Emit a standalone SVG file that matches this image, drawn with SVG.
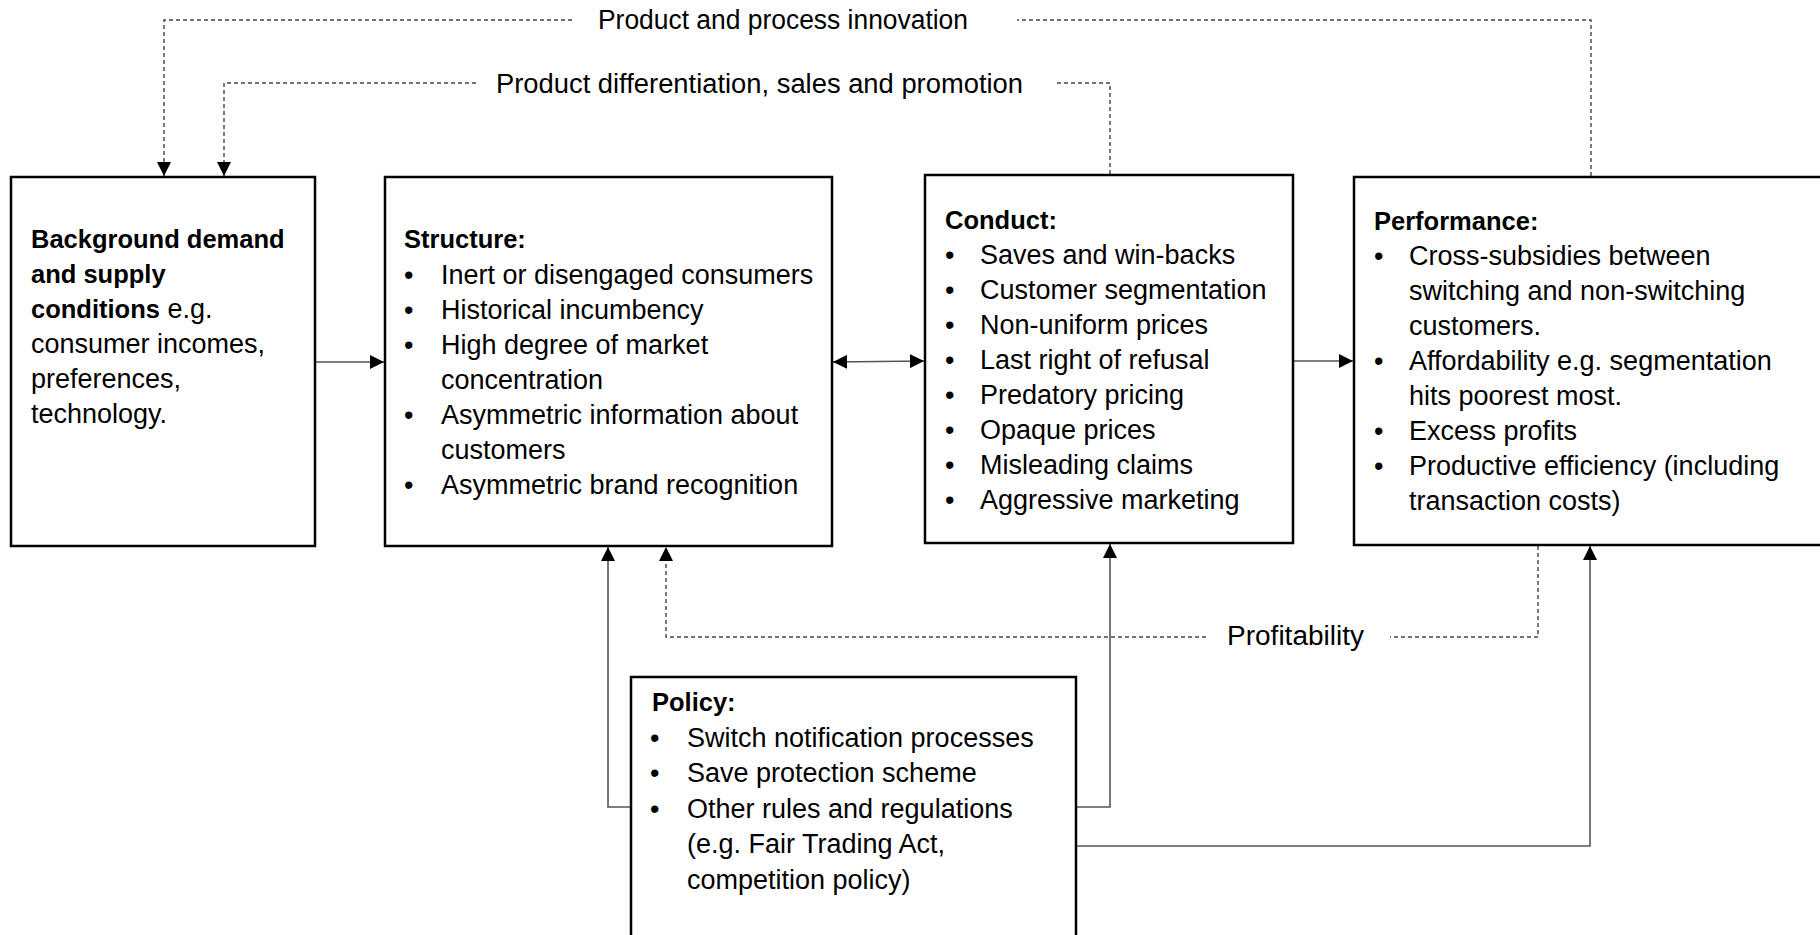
<svg xmlns="http://www.w3.org/2000/svg" width="1820" height="935" viewBox="0 0 1820 935">
  <style>
    .box { fill: #ffffff; stroke: #000000; stroke-width: 2.5; }
    .t { font-family: "Liberation Sans", Arial, sans-serif; font-size: 27px; fill: #000000; }
    .b { font-weight: bold; font-size: 25.5px; }
    .solid { fill: none; stroke: #555555; stroke-width: 1.6; }
    .dash { fill: none; stroke: #444444; stroke-width: 1.4; stroke-dasharray: 4 3; }
  </style>
  <defs>
    <marker id="arrow" viewBox="0 0 14 14" refX="14" refY="7" markerWidth="14" markerHeight="14" markerUnits="userSpaceOnUse" orient="auto-start-reverse">
      <path d="M0,0 L14,7 L0,14 Z" fill="#000000"/>
    </marker>
  </defs>
  <rect width="1820" height="935" fill="#ffffff"/>

  <!-- connectors -->
  <g id="connectors">
    <line class="solid" x1="315" y1="362" x2="384" y2="362" marker-end="url(#arrow)"/>
    <line class="solid" x1="833" y1="362" x2="924" y2="361" marker-start="url(#arrow)" marker-end="url(#arrow)"/>
    <line class="solid" x1="1294" y1="361" x2="1353" y2="361" marker-end="url(#arrow)"/>

    <path class="dash" d="M1591,176 V20 H1017"/>
    <path class="dash" d="M572,20 H164 V176" marker-end="url(#arrow)"/>
    <path class="dash" d="M1110,174 V83 H1054"/>
    <path class="dash" d="M476,83 H224 V176" marker-end="url(#arrow)"/>
    <path class="dash" d="M1538,546 V637 H1390"/>
    <path class="dash" d="M1206,637 H666 V547" marker-end="url(#arrow)"/>

    <path class="solid" d="M631,807 H608 V547" marker-end="url(#arrow)"/>
    <path class="solid" d="M1076,807 H1110 V544" marker-end="url(#arrow)"/>
    <path class="solid" d="M1076,846 H1590 V546" marker-end="url(#arrow)"/>

    <text class="t" x="598" y="29" textLength="370" lengthAdjust="spacingAndGlyphs">Product and process innovation</text>
    <text class="t" x="496" y="93" textLength="527" lengthAdjust="spacingAndGlyphs">Product differentiation, sales and promotion</text>
    <text class="t" x="1227" y="645" textLength="137" lengthAdjust="spacingAndGlyphs">Profitability</text>
  </g>

  <!-- background conditions -->
  <g id="background">
    <rect class="box" x="11" y="177" width="304" height="369"/>
    <text class="t b" x="31" y="248">Background demand</text>
    <text class="t b" x="31" y="283">and supply</text>
    <text class="t" x="31" y="318"><tspan class="b">conditions</tspan> e.g.</text>
    <text class="t" x="31" y="353">consumer incomes,</text>
    <text class="t" x="31" y="388">preferences,</text>
    <text class="t" x="31" y="423">technology.</text>
  </g>

  <!-- structure -->
  <g id="structure">
    <rect class="box" x="385" y="177" width="447" height="369"/>
    <text class="t b" x="404" y="248">Structure:</text>
    <g class="t">
      <text x="404" y="284">•</text>
      <text x="441" y="284">Inert or disengaged consumers</text>
      <text x="404" y="319">•</text>
      <text x="441" y="319">Historical incumbency</text>
      <text x="404" y="354">•</text>
      <text x="441" y="354">High degree of market</text>
      <text x="441" y="389">concentration</text>
      <text x="404" y="424">•</text>
      <text x="441" y="424">Asymmetric information about</text>
      <text x="441" y="459">customers</text>
      <text x="404" y="494">•</text>
      <text x="441" y="494">Asymmetric brand recognition</text>
    </g>
  </g>

  <!-- conduct -->
  <g id="conduct">
    <rect class="box" x="925" y="175" width="368" height="368"/>
    <text class="t b" x="945" y="229">Conduct:</text>
    <g class="t">
      <text x="945" y="264">•</text>
      <text x="980" y="264">Saves and win-backs</text>
      <text x="945" y="299">•</text>
      <text x="980" y="299">Customer segmentation</text>
      <text x="945" y="334">•</text>
      <text x="980" y="334">Non-uniform prices</text>
      <text x="945" y="369">•</text>
      <text x="980" y="369">Last right of refusal</text>
      <text x="945" y="404">•</text>
      <text x="980" y="404">Predatory pricing</text>
      <text x="945" y="439">•</text>
      <text x="980" y="439">Opaque prices</text>
      <text x="945" y="474">•</text>
      <text x="980" y="474">Misleading claims</text>
      <text x="945" y="509">•</text>
      <text x="980" y="509">Aggressive marketing</text>
    </g>
  </g>

  <!-- performance -->
  <g id="performance">
    <rect class="box" x="1354" y="177" width="480" height="368"/>
    <text class="t b" x="1374" y="230">Performance:</text>
    <g class="t">
      <text x="1374" y="265">•</text>
      <text x="1409" y="265">Cross-subsidies between</text>
      <text x="1409" y="300">switching and non-switching</text>
      <text x="1409" y="335">customers.</text>
      <text x="1374" y="370">•</text>
      <text x="1409" y="370">Affordability e.g. segmentation</text>
      <text x="1409" y="405">hits poorest most.</text>
      <text x="1374" y="440">•</text>
      <text x="1409" y="440">Excess profits</text>
      <text x="1374" y="475">•</text>
      <text x="1409" y="475">Productive efficiency (including</text>
      <text x="1409" y="510">transaction costs)</text>
    </g>
  </g>

  <!-- policy -->
  <g id="policy">
    <rect class="box" x="631" y="677" width="445" height="280"/>
    <text class="t b" x="652" y="711">Policy:</text>
    <g class="t">
      <text x="650" y="747">•</text>
      <text x="687" y="747">Switch notification processes</text>
      <text x="650" y="782">•</text>
      <text x="687" y="782">Save protection scheme</text>
      <text x="650" y="818">•</text>
      <text x="687" y="818">Other rules and regulations</text>
      <text x="687" y="853">(e.g. Fair Trading Act,</text>
      <text x="687" y="889">competition policy)</text>
    </g>
  </g>
</svg>
